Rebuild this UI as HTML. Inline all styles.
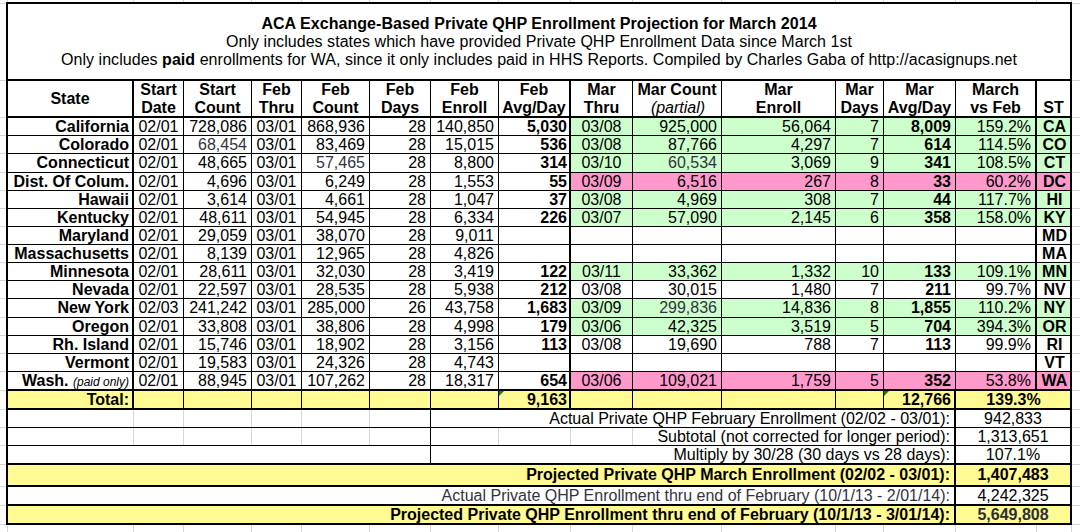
<!DOCTYPE html>
<html><head><meta charset="utf-8"><title>ACA Exchange-Based Private QHP Enrollment Projection for March 2014</title>
<style>
html,body{margin:0;padding:0;background:#fff;}
body{width:1080px;height:532px;position:relative;overflow:hidden;font-family:"Liberation Sans",Arial,Helvetica,sans-serif;font-size:16px;color:#000;}
i{position:absolute;display:block;font-style:normal;}
span{position:absolute;display:block;height:18px;line-height:18px;white-space:nowrap;}
span i, div i{position:static;display:inline;font-style:italic;}
.b{font-weight:bold;}
.n{font-weight:normal;}
.p{font-size:12px;font-weight:normal;}
.t{position:absolute;left:8px;width:1062px;text-align:center;line-height:18px;white-space:nowrap;letter-spacing:0.045px;}
</style></head><body>
<i style="left:0px;top:3px;width:6px;height:1px;background:#d6d6d6"></i>
<i style="left:1072px;top:3px;width:8px;height:1px;background:#d6d6d6"></i>
<i style="left:0px;top:80px;width:6px;height:1px;background:#d6d6d6"></i>
<i style="left:1072px;top:80px;width:8px;height:1px;background:#d6d6d6"></i>
<i style="left:0px;top:117px;width:6px;height:1px;background:#d6d6d6"></i>
<i style="left:1072px;top:117px;width:8px;height:1px;background:#d6d6d6"></i>
<i style="left:0px;top:135px;width:6px;height:1px;background:#d6d6d6"></i>
<i style="left:1072px;top:135px;width:8px;height:1px;background:#d6d6d6"></i>
<i style="left:0px;top:153px;width:6px;height:1px;background:#d6d6d6"></i>
<i style="left:1072px;top:153px;width:8px;height:1px;background:#d6d6d6"></i>
<i style="left:0px;top:172px;width:6px;height:1px;background:#d6d6d6"></i>
<i style="left:1072px;top:172px;width:8px;height:1px;background:#d6d6d6"></i>
<i style="left:0px;top:190px;width:6px;height:1px;background:#d6d6d6"></i>
<i style="left:1072px;top:190px;width:8px;height:1px;background:#d6d6d6"></i>
<i style="left:0px;top:208px;width:6px;height:1px;background:#d6d6d6"></i>
<i style="left:1072px;top:208px;width:8px;height:1px;background:#d6d6d6"></i>
<i style="left:0px;top:226px;width:6px;height:1px;background:#d6d6d6"></i>
<i style="left:1072px;top:226px;width:8px;height:1px;background:#d6d6d6"></i>
<i style="left:0px;top:244px;width:6px;height:1px;background:#d6d6d6"></i>
<i style="left:1072px;top:244px;width:8px;height:1px;background:#d6d6d6"></i>
<i style="left:0px;top:262px;width:6px;height:1px;background:#d6d6d6"></i>
<i style="left:1072px;top:262px;width:8px;height:1px;background:#d6d6d6"></i>
<i style="left:0px;top:280px;width:6px;height:1px;background:#d6d6d6"></i>
<i style="left:1072px;top:280px;width:8px;height:1px;background:#d6d6d6"></i>
<i style="left:0px;top:298px;width:6px;height:1px;background:#d6d6d6"></i>
<i style="left:1072px;top:298px;width:8px;height:1px;background:#d6d6d6"></i>
<i style="left:0px;top:317px;width:6px;height:1px;background:#d6d6d6"></i>
<i style="left:1072px;top:317px;width:8px;height:1px;background:#d6d6d6"></i>
<i style="left:0px;top:335px;width:6px;height:1px;background:#d6d6d6"></i>
<i style="left:1072px;top:335px;width:8px;height:1px;background:#d6d6d6"></i>
<i style="left:0px;top:353px;width:6px;height:1px;background:#d6d6d6"></i>
<i style="left:1072px;top:353px;width:8px;height:1px;background:#d6d6d6"></i>
<i style="left:0px;top:371px;width:6px;height:1px;background:#d6d6d6"></i>
<i style="left:1072px;top:371px;width:8px;height:1px;background:#d6d6d6"></i>
<i style="left:0px;top:390px;width:6px;height:1px;background:#d6d6d6"></i>
<i style="left:1072px;top:390px;width:8px;height:1px;background:#d6d6d6"></i>
<i style="left:0px;top:409px;width:6px;height:1px;background:#d6d6d6"></i>
<i style="left:1072px;top:409px;width:8px;height:1px;background:#d6d6d6"></i>
<i style="left:0px;top:427px;width:6px;height:1px;background:#d6d6d6"></i>
<i style="left:1072px;top:427px;width:8px;height:1px;background:#d6d6d6"></i>
<i style="left:0px;top:445px;width:6px;height:1px;background:#d6d6d6"></i>
<i style="left:1072px;top:445px;width:8px;height:1px;background:#d6d6d6"></i>
<i style="left:0px;top:464px;width:6px;height:1px;background:#d6d6d6"></i>
<i style="left:1072px;top:464px;width:8px;height:1px;background:#d6d6d6"></i>
<i style="left:0px;top:486px;width:6px;height:1px;background:#d6d6d6"></i>
<i style="left:1072px;top:486px;width:8px;height:1px;background:#d6d6d6"></i>
<i style="left:0px;top:505px;width:6px;height:1px;background:#d6d6d6"></i>
<i style="left:1072px;top:505px;width:8px;height:1px;background:#d6d6d6"></i>
<i style="left:0px;top:524px;width:6px;height:1px;background:#d6d6d6"></i>
<i style="left:1072px;top:524px;width:8px;height:1px;background:#d6d6d6"></i>
<i style="left:7px;top:0px;width:1px;height:2px;background:#d6d6d6"></i>
<i style="left:7px;top:525px;width:1px;height:7px;background:#d6d6d6"></i>
<i style="left:133px;top:0px;width:1px;height:2px;background:#d6d6d6"></i>
<i style="left:133px;top:525px;width:1px;height:7px;background:#d6d6d6"></i>
<i style="left:183px;top:0px;width:1px;height:2px;background:#d6d6d6"></i>
<i style="left:183px;top:525px;width:1px;height:7px;background:#d6d6d6"></i>
<i style="left:251px;top:0px;width:1px;height:2px;background:#d6d6d6"></i>
<i style="left:251px;top:525px;width:1px;height:7px;background:#d6d6d6"></i>
<i style="left:301px;top:0px;width:1px;height:2px;background:#d6d6d6"></i>
<i style="left:301px;top:525px;width:1px;height:7px;background:#d6d6d6"></i>
<i style="left:369px;top:0px;width:1px;height:2px;background:#d6d6d6"></i>
<i style="left:369px;top:525px;width:1px;height:7px;background:#d6d6d6"></i>
<i style="left:430px;top:0px;width:1px;height:2px;background:#d6d6d6"></i>
<i style="left:430px;top:525px;width:1px;height:7px;background:#d6d6d6"></i>
<i style="left:498px;top:0px;width:1px;height:2px;background:#d6d6d6"></i>
<i style="left:498px;top:525px;width:1px;height:7px;background:#d6d6d6"></i>
<i style="left:570px;top:0px;width:1px;height:2px;background:#d6d6d6"></i>
<i style="left:570px;top:525px;width:1px;height:7px;background:#d6d6d6"></i>
<i style="left:632px;top:0px;width:1px;height:2px;background:#d6d6d6"></i>
<i style="left:632px;top:525px;width:1px;height:7px;background:#d6d6d6"></i>
<i style="left:721px;top:0px;width:1px;height:2px;background:#d6d6d6"></i>
<i style="left:721px;top:525px;width:1px;height:7px;background:#d6d6d6"></i>
<i style="left:835px;top:0px;width:1px;height:2px;background:#d6d6d6"></i>
<i style="left:835px;top:525px;width:1px;height:7px;background:#d6d6d6"></i>
<i style="left:883px;top:0px;width:1px;height:2px;background:#d6d6d6"></i>
<i style="left:883px;top:525px;width:1px;height:7px;background:#d6d6d6"></i>
<i style="left:955px;top:0px;width:1px;height:2px;background:#d6d6d6"></i>
<i style="left:955px;top:525px;width:1px;height:7px;background:#d6d6d6"></i>
<i style="left:1036px;top:0px;width:1px;height:2px;background:#d6d6d6"></i>
<i style="left:1036px;top:525px;width:1px;height:7px;background:#d6d6d6"></i>
<i style="left:1071px;top:0px;width:1px;height:2px;background:#d6d6d6"></i>
<i style="left:1071px;top:525px;width:1px;height:7px;background:#d6d6d6"></i>
<i style="left:570px;top:118px;width:500px;height:17px;background:#ccffcc"></i>
<i style="left:570px;top:136px;width:500px;height:17px;background:#ccffcc"></i>
<i style="left:570px;top:154px;width:500px;height:18px;background:#ccffcc"></i>
<i style="left:570px;top:173px;width:500px;height:17px;background:#ff99cc"></i>
<i style="left:570px;top:191px;width:500px;height:17px;background:#ccffcc"></i>
<i style="left:570px;top:209px;width:500px;height:17px;background:#ccffcc"></i>
<i style="left:570px;top:263px;width:500px;height:17px;background:#ccffcc"></i>
<i style="left:570px;top:299px;width:500px;height:18px;background:#ccffcc"></i>
<i style="left:570px;top:318px;width:500px;height:17px;background:#ccffcc"></i>
<i style="left:570px;top:372px;width:500px;height:17px;background:#ff99cc"></i>
<i style="left:8px;top:391px;width:1062px;height:17px;background:#fffa92"></i>
<i style="left:8px;top:465px;width:1062px;height:20px;background:#fffa92"></i>
<i style="left:8px;top:506px;width:1062px;height:17px;background:#fffa92"></i>
<i style="left:133px;top:410px;width:1px;height:17px;background:#d6d6d6"></i>
<i style="left:183px;top:410px;width:1px;height:17px;background:#d6d6d6"></i>
<i style="left:251px;top:410px;width:1px;height:17px;background:#d6d6d6"></i>
<i style="left:301px;top:410px;width:1px;height:17px;background:#d6d6d6"></i>
<i style="left:369px;top:410px;width:1px;height:17px;background:#d6d6d6"></i>
<i style="left:133px;top:428px;width:1px;height:17px;background:#d6d6d6"></i>
<i style="left:183px;top:428px;width:1px;height:17px;background:#d6d6d6"></i>
<i style="left:251px;top:428px;width:1px;height:17px;background:#d6d6d6"></i>
<i style="left:301px;top:428px;width:1px;height:17px;background:#d6d6d6"></i>
<i style="left:369px;top:428px;width:1px;height:17px;background:#d6d6d6"></i>
<i style="left:498px;top:428px;width:1px;height:17px;background:#d6d6d6"></i>
<i style="left:570px;top:428px;width:1px;height:17px;background:#d6d6d6"></i>
<i style="left:632px;top:428px;width:1px;height:17px;background:#d6d6d6"></i>
<i style="left:6px;top:2px;width:1066px;height:2px;background:#000"></i>
<i style="left:6px;top:79px;width:1066px;height:2px;background:#000"></i>
<i style="left:6px;top:116px;width:1066px;height:2px;background:#000"></i>
<i style="left:6px;top:135px;width:1066px;height:1px;background:#000"></i>
<i style="left:6px;top:153px;width:1066px;height:1px;background:#000"></i>
<i style="left:6px;top:172px;width:1066px;height:1px;background:#000"></i>
<i style="left:6px;top:190px;width:1066px;height:1px;background:#000"></i>
<i style="left:6px;top:208px;width:1066px;height:1px;background:#000"></i>
<i style="left:6px;top:226px;width:1066px;height:1px;background:#000"></i>
<i style="left:6px;top:244px;width:1066px;height:1px;background:#000"></i>
<i style="left:6px;top:262px;width:1066px;height:1px;background:#000"></i>
<i style="left:6px;top:280px;width:1066px;height:1px;background:#000"></i>
<i style="left:6px;top:298px;width:1066px;height:1px;background:#000"></i>
<i style="left:6px;top:317px;width:1066px;height:1px;background:#000"></i>
<i style="left:6px;top:335px;width:1066px;height:1px;background:#000"></i>
<i style="left:6px;top:353px;width:1066px;height:1px;background:#000"></i>
<i style="left:6px;top:371px;width:1066px;height:1px;background:#000"></i>
<i style="left:6px;top:389px;width:1066px;height:2px;background:#000"></i>
<i style="left:6px;top:408px;width:1066px;height:2px;background:#000"></i>
<i style="left:6px;top:427px;width:1066px;height:1px;background:#000"></i>
<i style="left:6px;top:445px;width:1066px;height:1px;background:#000"></i>
<i style="left:6px;top:463px;width:1066px;height:2px;background:#000"></i>
<i style="left:6px;top:485px;width:1066px;height:2px;background:#000"></i>
<i style="left:6px;top:504px;width:1066px;height:2px;background:#000"></i>
<i style="left:6px;top:523px;width:1066px;height:2px;background:#000"></i>
<i style="left:6px;top:2px;width:2px;height:523px;background:#000"></i>
<i style="left:1070px;top:2px;width:2px;height:523px;background:#000"></i>
<i style="left:132px;top:79px;width:2px;height:331px;background:#000"></i>
<i style="left:183px;top:79px;width:1px;height:331px;background:#000"></i>
<i style="left:251px;top:79px;width:1px;height:331px;background:#000"></i>
<i style="left:301px;top:79px;width:1px;height:331px;background:#000"></i>
<i style="left:369px;top:79px;width:1px;height:331px;background:#000"></i>
<i style="left:430px;top:79px;width:1px;height:331px;background:#000"></i>
<i style="left:498px;top:79px;width:1px;height:331px;background:#000"></i>
<i style="left:569px;top:79px;width:2px;height:331px;background:#000"></i>
<i style="left:632px;top:79px;width:1px;height:331px;background:#000"></i>
<i style="left:721px;top:79px;width:1px;height:331px;background:#000"></i>
<i style="left:835px;top:79px;width:1px;height:331px;background:#000"></i>
<i style="left:883px;top:79px;width:1px;height:331px;background:#000"></i>
<i style="left:955px;top:79px;width:1px;height:310px;background:#000"></i>
<i style="left:954px;top:389px;width:2px;height:21px;background:#000"></i>
<i style="left:1035px;top:79px;width:2px;height:311px;background:#000"></i>
<i style="left:430px;top:408px;width:1px;height:55px;background:#000"></i>
<i style="left:954px;top:408px;width:2px;height:115px;background:#000"></i>
<div class="t" style="top:15px;font-weight:bold">ACA Exchange-Based Private QHP Enrollment Projection for March 2014</div>
<div class="t" style="top:33px">Only includes states which have provided Private QHP Enrollment Data since March 1st</div>
<div class="t" style="top:51px">Only includes <b>paid</b> enrollments for WA, since it only includes paid in HHS Reports. Compiled by Charles Gaba of http://acasignups.net</div>
<span class="b" style="left:8px;width:124px;text-align:center;top:90px;">State</span>
<span class="b" style="left:134px;width:49px;text-align:center;top:81px;">Start</span>
<span class="b" style="left:134px;width:49px;text-align:center;top:99px;">Date</span>
<span class="b" style="left:184px;width:67px;text-align:center;top:81px;">Start</span>
<span class="b" style="left:184px;width:67px;text-align:center;top:99px;">Count</span>
<span class="b" style="left:252px;width:49px;text-align:center;top:81px;">Feb</span>
<span class="b" style="left:252px;width:49px;text-align:center;top:99px;">Thru</span>
<span class="b" style="left:302px;width:67px;text-align:center;top:81px;">Feb</span>
<span class="b" style="left:302px;width:67px;text-align:center;top:99px;">Count</span>
<span class="b" style="left:370px;width:60px;text-align:center;top:81px;">Feb</span>
<span class="b" style="left:370px;width:60px;text-align:center;top:99px;">Days</span>
<span class="b" style="left:431px;width:67px;text-align:center;top:81px;">Feb</span>
<span class="b" style="left:431px;width:67px;text-align:center;top:99px;">Enroll</span>
<span class="b" style="left:499px;width:70px;text-align:center;top:81px;">Feb</span>
<span class="b" style="left:499px;width:70px;text-align:center;top:99px;">Avg/Day</span>
<span class="b" style="left:571px;width:61px;text-align:center;top:81px;">Mar</span>
<span class="b" style="left:571px;width:61px;text-align:center;top:99px;">Thru</span>
<span class="b" style="left:633px;width:88px;text-align:center;top:81px;">Mar Count</span>
<span class="b" style="left:633px;width:88px;text-align:center;top:99px;"><i class="n" style="position:relative;left:1px">(partial)</i></span>
<span class="b" style="left:722px;width:113px;text-align:center;top:81px;">Mar</span>
<span class="b" style="left:722px;width:113px;text-align:center;top:99px;">Enroll</span>
<span class="b" style="left:836px;width:47px;text-align:center;top:81px;">Mar</span>
<span class="b" style="left:836px;width:47px;text-align:center;top:99px;">Days</span>
<span class="b" style="left:884px;width:71px;text-align:center;top:81px;">Mar</span>
<span class="b" style="left:884px;width:71px;text-align:center;top:99px;">Avg/Day</span>
<span class="b" style="left:956px;width:79px;text-align:center;top:81px;">March</span>
<span class="b" style="left:956px;width:79px;text-align:center;top:99px;">vs Feb</span>
<span class="b" style="left:1037px;width:33px;text-align:center;top:99px;">ST</span>
<span class="b" style="left:8px;width:121px;text-align:right;top:118px;">California</span>
<span style="left:134px;width:49px;text-align:center;top:118px;">02/01</span>
<span style="left:184px;width:63px;text-align:right;top:118px;">728,086</span>
<span style="left:252px;width:49px;text-align:center;top:118px;">03/01</span>
<span style="left:302px;width:63px;text-align:right;top:118px;">868,936</span>
<span style="left:370px;width:56px;text-align:right;top:118px;">28</span>
<span style="left:431px;width:63px;text-align:right;top:118px;">140,850</span>
<span class="b" style="left:499px;width:68px;text-align:right;top:118px;">5,030</span>
<span style="left:571px;width:61px;text-align:center;top:118px;">03/08</span>
<span style="left:633px;width:84px;text-align:right;top:118px;">925,000</span>
<span style="left:722px;width:109px;text-align:right;top:118px;">56,064</span>
<span style="left:836px;width:43px;text-align:right;top:118px;">7</span>
<span class="b" style="left:884px;width:67px;text-align:right;top:118px;">8,009</span>
<span style="left:956px;width:75px;text-align:right;top:118px;">159.2%</span>
<span class="b" style="left:1038px;width:33px;text-align:center;top:118px;">CA</span>
<span class="b" style="left:8px;width:121px;text-align:right;top:136px;">Colorado</span>
<span style="left:134px;width:49px;text-align:center;top:136px;">02/01</span>
<span style="left:184px;width:63px;text-align:right;top:136px;color:#33333f;">68,454</span>
<span style="left:252px;width:49px;text-align:center;top:136px;">03/01</span>
<span style="left:302px;width:63px;text-align:right;top:136px;">83,469</span>
<span style="left:370px;width:56px;text-align:right;top:136px;">28</span>
<span style="left:431px;width:63px;text-align:right;top:136px;">15,015</span>
<span class="b" style="left:499px;width:68px;text-align:right;top:136px;">536</span>
<span style="left:571px;width:61px;text-align:center;top:136px;">03/08</span>
<span style="left:633px;width:84px;text-align:right;top:136px;">87,766</span>
<span style="left:722px;width:109px;text-align:right;top:136px;">4,297</span>
<span style="left:836px;width:43px;text-align:right;top:136px;">7</span>
<span class="b" style="left:884px;width:67px;text-align:right;top:136px;">614</span>
<span style="left:956px;width:75px;text-align:right;top:136px;">114.5%</span>
<span class="b" style="left:1038px;width:33px;text-align:center;top:136px;">CO</span>
<span class="b" style="left:8px;width:121px;text-align:right;top:154px;">Connecticut</span>
<span style="left:134px;width:49px;text-align:center;top:154px;">02/01</span>
<span style="left:184px;width:63px;text-align:right;top:154px;">48,665</span>
<span style="left:252px;width:49px;text-align:center;top:154px;">03/01</span>
<span style="left:302px;width:63px;text-align:right;top:154px;color:#33333f;">57,465</span>
<span style="left:370px;width:56px;text-align:right;top:154px;">28</span>
<span style="left:431px;width:63px;text-align:right;top:154px;">8,800</span>
<span class="b" style="left:499px;width:68px;text-align:right;top:154px;">314</span>
<span style="left:571px;width:61px;text-align:center;top:154px;">03/10</span>
<span style="left:633px;width:84px;text-align:right;top:154px;color:#33333f;">60,534</span>
<span style="left:722px;width:109px;text-align:right;top:154px;">3,069</span>
<span style="left:836px;width:43px;text-align:right;top:154px;">9</span>
<span class="b" style="left:884px;width:67px;text-align:right;top:154px;">341</span>
<span style="left:956px;width:75px;text-align:right;top:154px;">108.5%</span>
<span class="b" style="left:1038px;width:33px;text-align:center;top:154px;">CT</span>
<span class="b" style="left:8px;width:121px;text-align:right;top:173px;">Dist. Of Colum.</span>
<span style="left:134px;width:49px;text-align:center;top:173px;">02/01</span>
<span style="left:184px;width:63px;text-align:right;top:173px;">4,696</span>
<span style="left:252px;width:49px;text-align:center;top:173px;">03/01</span>
<span style="left:302px;width:63px;text-align:right;top:173px;">6,249</span>
<span style="left:370px;width:56px;text-align:right;top:173px;">28</span>
<span style="left:431px;width:63px;text-align:right;top:173px;">1,553</span>
<span class="b" style="left:499px;width:68px;text-align:right;top:173px;">55</span>
<span style="left:571px;width:61px;text-align:center;top:173px;">03/09</span>
<span style="left:633px;width:84px;text-align:right;top:173px;">6,516</span>
<span style="left:722px;width:109px;text-align:right;top:173px;">267</span>
<span style="left:836px;width:43px;text-align:right;top:173px;">8</span>
<span class="b" style="left:884px;width:67px;text-align:right;top:173px;">33</span>
<span style="left:956px;width:75px;text-align:right;top:173px;">60.2%</span>
<span class="b" style="left:1038px;width:33px;text-align:center;top:173px;">DC</span>
<span class="b" style="left:8px;width:121px;text-align:right;top:191px;">Hawaii</span>
<span style="left:134px;width:49px;text-align:center;top:191px;">02/01</span>
<span style="left:184px;width:63px;text-align:right;top:191px;">3,614</span>
<span style="left:252px;width:49px;text-align:center;top:191px;">03/01</span>
<span style="left:302px;width:63px;text-align:right;top:191px;">4,661</span>
<span style="left:370px;width:56px;text-align:right;top:191px;">28</span>
<span style="left:431px;width:63px;text-align:right;top:191px;">1,047</span>
<span class="b" style="left:499px;width:68px;text-align:right;top:191px;">37</span>
<span style="left:571px;width:61px;text-align:center;top:191px;">03/08</span>
<span style="left:633px;width:84px;text-align:right;top:191px;">4,969</span>
<span style="left:722px;width:109px;text-align:right;top:191px;">308</span>
<span style="left:836px;width:43px;text-align:right;top:191px;">7</span>
<span class="b" style="left:884px;width:67px;text-align:right;top:191px;">44</span>
<span style="left:956px;width:75px;text-align:right;top:191px;">117.7%</span>
<span class="b" style="left:1038px;width:33px;text-align:center;top:191px;">HI</span>
<span class="b" style="left:8px;width:121px;text-align:right;top:209px;">Kentucky</span>
<span style="left:134px;width:49px;text-align:center;top:209px;">02/01</span>
<span style="left:184px;width:63px;text-align:right;top:209px;">48,611</span>
<span style="left:252px;width:49px;text-align:center;top:209px;">03/01</span>
<span style="left:302px;width:63px;text-align:right;top:209px;">54,945</span>
<span style="left:370px;width:56px;text-align:right;top:209px;">28</span>
<span style="left:431px;width:63px;text-align:right;top:209px;">6,334</span>
<span class="b" style="left:499px;width:68px;text-align:right;top:209px;">226</span>
<span style="left:571px;width:61px;text-align:center;top:209px;">03/07</span>
<span style="left:633px;width:84px;text-align:right;top:209px;">57,090</span>
<span style="left:722px;width:109px;text-align:right;top:209px;">2,145</span>
<span style="left:836px;width:43px;text-align:right;top:209px;">6</span>
<span class="b" style="left:884px;width:67px;text-align:right;top:209px;">358</span>
<span style="left:956px;width:75px;text-align:right;top:209px;">158.0%</span>
<span class="b" style="left:1038px;width:33px;text-align:center;top:209px;">KY</span>
<span class="b" style="left:8px;width:121px;text-align:right;top:227px;">Maryland</span>
<span style="left:134px;width:49px;text-align:center;top:227px;">02/01</span>
<span style="left:184px;width:63px;text-align:right;top:227px;">29,059</span>
<span style="left:252px;width:49px;text-align:center;top:227px;">03/01</span>
<span style="left:302px;width:63px;text-align:right;top:227px;">38,070</span>
<span style="left:370px;width:56px;text-align:right;top:227px;">28</span>
<span style="left:431px;width:63px;text-align:right;top:227px;">9,011</span>
<span class="b" style="left:1038px;width:33px;text-align:center;top:227px;">MD</span>
<span class="b" style="left:8px;width:121px;text-align:right;top:245px;">Massachusetts</span>
<span style="left:134px;width:49px;text-align:center;top:245px;">02/01</span>
<span style="left:184px;width:63px;text-align:right;top:245px;">8,139</span>
<span style="left:252px;width:49px;text-align:center;top:245px;">03/01</span>
<span style="left:302px;width:63px;text-align:right;top:245px;">12,965</span>
<span style="left:370px;width:56px;text-align:right;top:245px;">28</span>
<span style="left:431px;width:63px;text-align:right;top:245px;">4,826</span>
<span class="b" style="left:1038px;width:33px;text-align:center;top:245px;">MA</span>
<span class="b" style="left:8px;width:121px;text-align:right;top:263px;">Minnesota</span>
<span style="left:134px;width:49px;text-align:center;top:263px;">02/01</span>
<span style="left:184px;width:63px;text-align:right;top:263px;">28,611</span>
<span style="left:252px;width:49px;text-align:center;top:263px;">03/01</span>
<span style="left:302px;width:63px;text-align:right;top:263px;">32,030</span>
<span style="left:370px;width:56px;text-align:right;top:263px;">28</span>
<span style="left:431px;width:63px;text-align:right;top:263px;">3,419</span>
<span class="b" style="left:499px;width:68px;text-align:right;top:263px;">122</span>
<span style="left:571px;width:61px;text-align:center;top:263px;">03/11</span>
<span style="left:633px;width:84px;text-align:right;top:263px;">33,362</span>
<span style="left:722px;width:109px;text-align:right;top:263px;">1,332</span>
<span style="left:836px;width:43px;text-align:right;top:263px;">10</span>
<span class="b" style="left:884px;width:67px;text-align:right;top:263px;">133</span>
<span style="left:956px;width:75px;text-align:right;top:263px;">109.1%</span>
<span class="b" style="left:1038px;width:33px;text-align:center;top:263px;">MN</span>
<span class="b" style="left:8px;width:121px;text-align:right;top:281px;">Nevada</span>
<span style="left:134px;width:49px;text-align:center;top:281px;">02/01</span>
<span style="left:184px;width:63px;text-align:right;top:281px;">22,597</span>
<span style="left:252px;width:49px;text-align:center;top:281px;">03/01</span>
<span style="left:302px;width:63px;text-align:right;top:281px;">28,535</span>
<span style="left:370px;width:56px;text-align:right;top:281px;">28</span>
<span style="left:431px;width:63px;text-align:right;top:281px;">5,938</span>
<span class="b" style="left:499px;width:68px;text-align:right;top:281px;">212</span>
<span style="left:571px;width:61px;text-align:center;top:281px;">03/08</span>
<span style="left:633px;width:84px;text-align:right;top:281px;">30,015</span>
<span style="left:722px;width:109px;text-align:right;top:281px;">1,480</span>
<span style="left:836px;width:43px;text-align:right;top:281px;">7</span>
<span class="b" style="left:884px;width:67px;text-align:right;top:281px;">211</span>
<span style="left:956px;width:75px;text-align:right;top:281px;">99.7%</span>
<span class="b" style="left:1038px;width:33px;text-align:center;top:281px;">NV</span>
<span class="b" style="left:8px;width:121px;text-align:right;top:299px;">New York</span>
<span style="left:134px;width:49px;text-align:center;top:299px;">02/03</span>
<span style="left:184px;width:63px;text-align:right;top:299px;">241,242</span>
<span style="left:252px;width:49px;text-align:center;top:299px;">03/01</span>
<span style="left:302px;width:63px;text-align:right;top:299px;">285,000</span>
<span style="left:370px;width:56px;text-align:right;top:299px;">26</span>
<span style="left:431px;width:63px;text-align:right;top:299px;">43,758</span>
<span class="b" style="left:499px;width:68px;text-align:right;top:299px;">1,683</span>
<span style="left:571px;width:61px;text-align:center;top:299px;">03/09</span>
<span style="left:633px;width:84px;text-align:right;top:299px;color:#33333f;">299,836</span>
<span style="left:722px;width:109px;text-align:right;top:299px;">14,836</span>
<span style="left:836px;width:43px;text-align:right;top:299px;">8</span>
<span class="b" style="left:884px;width:67px;text-align:right;top:299px;">1,855</span>
<span style="left:956px;width:75px;text-align:right;top:299px;">110.2%</span>
<span class="b" style="left:1038px;width:33px;text-align:center;top:299px;">NY</span>
<span class="b" style="left:8px;width:121px;text-align:right;top:318px;">Oregon</span>
<span style="left:134px;width:49px;text-align:center;top:318px;">02/01</span>
<span style="left:184px;width:63px;text-align:right;top:318px;">33,808</span>
<span style="left:252px;width:49px;text-align:center;top:318px;">03/01</span>
<span style="left:302px;width:63px;text-align:right;top:318px;">38,806</span>
<span style="left:370px;width:56px;text-align:right;top:318px;">28</span>
<span style="left:431px;width:63px;text-align:right;top:318px;">4,998</span>
<span class="b" style="left:499px;width:68px;text-align:right;top:318px;">179</span>
<span style="left:571px;width:61px;text-align:center;top:318px;">03/06</span>
<span style="left:633px;width:84px;text-align:right;top:318px;">42,325</span>
<span style="left:722px;width:109px;text-align:right;top:318px;">3,519</span>
<span style="left:836px;width:43px;text-align:right;top:318px;">5</span>
<span class="b" style="left:884px;width:67px;text-align:right;top:318px;">704</span>
<span style="left:956px;width:75px;text-align:right;top:318px;">394.3%</span>
<span class="b" style="left:1038px;width:33px;text-align:center;top:318px;">OR</span>
<span class="b" style="left:8px;width:121px;text-align:right;top:336px;">Rh. Island</span>
<span style="left:134px;width:49px;text-align:center;top:336px;">02/01</span>
<span style="left:184px;width:63px;text-align:right;top:336px;">15,746</span>
<span style="left:252px;width:49px;text-align:center;top:336px;">03/01</span>
<span style="left:302px;width:63px;text-align:right;top:336px;">18,902</span>
<span style="left:370px;width:56px;text-align:right;top:336px;">28</span>
<span style="left:431px;width:63px;text-align:right;top:336px;">3,156</span>
<span class="b" style="left:499px;width:68px;text-align:right;top:336px;">113</span>
<span style="left:571px;width:61px;text-align:center;top:336px;">03/08</span>
<span style="left:633px;width:84px;text-align:right;top:336px;">19,690</span>
<span style="left:722px;width:109px;text-align:right;top:336px;">788</span>
<span style="left:836px;width:43px;text-align:right;top:336px;">7</span>
<span class="b" style="left:884px;width:67px;text-align:right;top:336px;">113</span>
<span style="left:956px;width:75px;text-align:right;top:336px;">99.9%</span>
<span class="b" style="left:1038px;width:33px;text-align:center;top:336px;">RI</span>
<span class="b" style="left:8px;width:121px;text-align:right;top:354px;">Vermont</span>
<span style="left:134px;width:49px;text-align:center;top:354px;">02/01</span>
<span style="left:184px;width:63px;text-align:right;top:354px;">19,583</span>
<span style="left:252px;width:49px;text-align:center;top:354px;">03/01</span>
<span style="left:302px;width:63px;text-align:right;top:354px;">24,326</span>
<span style="left:370px;width:56px;text-align:right;top:354px;">28</span>
<span style="left:431px;width:63px;text-align:right;top:354px;">4,743</span>
<span class="b" style="left:1038px;width:33px;text-align:center;top:354px;">VT</span>
<span class="b" style="left:8px;width:121px;text-align:right;top:372px;">Wash. <i class="p">(paid only)</i></span>
<span style="left:134px;width:49px;text-align:center;top:372px;">02/01</span>
<span style="left:184px;width:63px;text-align:right;top:372px;">88,945</span>
<span style="left:252px;width:49px;text-align:center;top:372px;">03/01</span>
<span style="left:302px;width:63px;text-align:right;top:372px;">107,262</span>
<span style="left:370px;width:56px;text-align:right;top:372px;">28</span>
<span style="left:431px;width:63px;text-align:right;top:372px;">18,317</span>
<span class="b" style="left:499px;width:68px;text-align:right;top:372px;">654</span>
<span style="left:571px;width:61px;text-align:center;top:372px;">03/06</span>
<span style="left:633px;width:84px;text-align:right;top:372px;">109,021</span>
<span style="left:722px;width:109px;text-align:right;top:372px;">1,759</span>
<span style="left:836px;width:43px;text-align:right;top:372px;">5</span>
<span class="b" style="left:884px;width:67px;text-align:right;top:372px;">352</span>
<span style="left:956px;width:75px;text-align:right;top:372px;">53.8%</span>
<span class="b" style="left:1038px;width:33px;text-align:center;top:372px;">WA</span>
<span class="b" style="left:8px;width:121px;text-align:right;top:391px;">Total:</span>
<span class="b" style="left:499px;width:68px;text-align:right;top:391px;">9,163</span>
<span class="b" style="left:884px;width:67px;text-align:right;top:391px;">12,766</span>
<span class="b" style="left:957px;width:113px;text-align:center;top:391px;">139.3%</span>
<i style="left:499px;top:391px;width:0;height:0;border-top:5px solid #1a7a1a;border-right:5px solid transparent;background:none"></i>
<i style="left:884px;top:391px;width:0;height:0;border-top:5px solid #1a7a1a;border-right:5px solid transparent;background:none"></i>
<span style="left:8px;width:942px;text-align:right;top:410px;">Actual Private QHP February Enrollment (02/02 - 03/01):</span>
<span style="left:956px;width:114px;text-align:center;top:410px;">942,833</span>
<span style="left:8px;width:942px;text-align:right;top:428px;">Subtotal (not corrected for longer period):</span>
<span style="left:956px;width:114px;text-align:center;top:428px;">1,313,651</span>
<span style="left:8px;width:942px;text-align:right;top:446px;">Multiply by 30/28 (30 days vs 28 days):</span>
<span style="left:956px;width:114px;text-align:center;top:446px;">107.1%</span>
<span class="b" style="left:8px;width:942px;text-align:right;top:466px;">Projected Private QHP March Enrollment (02/02 - 03/01):</span>
<span class="b" style="left:956px;width:114px;text-align:center;top:466px;">1,407,483</span>
<span style="left:8px;width:942px;text-align:right;top:487px;color:#33333f;">Actual Private QHP Enrollment thru end of February (10/1/13 - 2/01/14):</span>
<span style="left:956px;width:114px;text-align:center;top:487px;">4,242,325</span>
<span class="b" style="left:8px;width:942px;text-align:right;top:506px;">Projected Private QHP Enrollment thru end of February (10/1/13 - 3/01/14):</span>
<span class="b" style="left:956px;width:114px;text-align:center;top:506px;color:#2e2e36;">5,649,808</span>
</body></html>
